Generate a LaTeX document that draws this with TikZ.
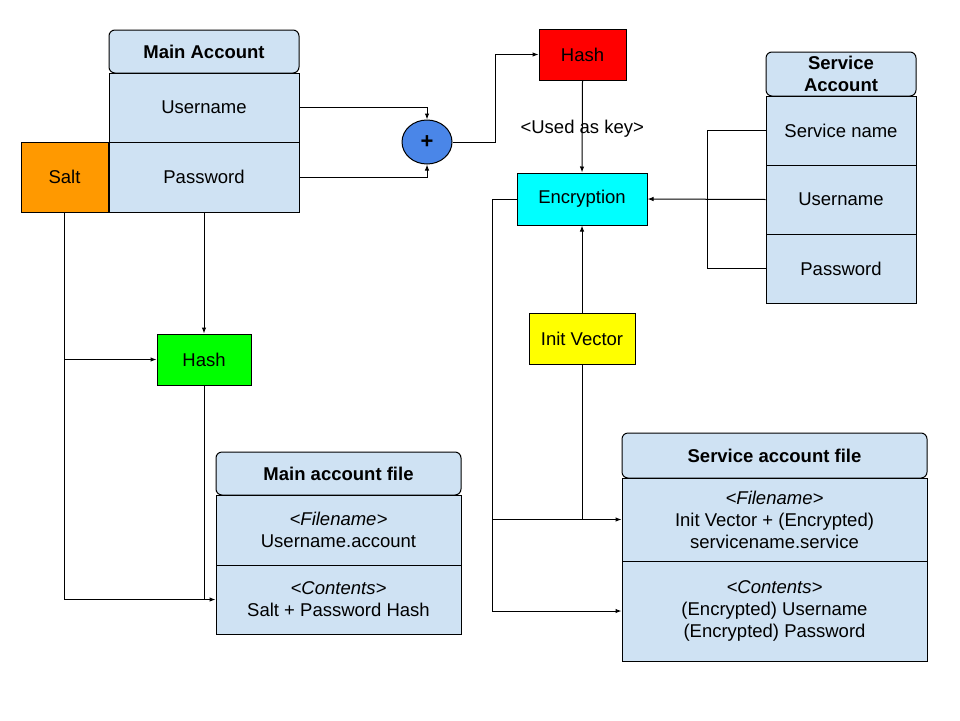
\documentclass[tikz,border=0pt]{standalone}
\usepackage{fontspec}
\setmainfont{Liberation Sans}
\usetikzlibrary{arrows.meta,shapes.geometric}

\definecolor{cellblue}{HTML}{CFE2F3}
\definecolor{saltorange}{HTML}{FF9900}
\definecolor{plusblue}{HTML}{4A86E8}
\definecolor{hashred}{HTML}{FF0000}
\definecolor{hashgreen}{HTML}{00FF00}
\definecolor{enccyan}{HTML}{00FFFF}
\definecolor{ivyellow}{HTML}{FFFF00}

\tikzset{
    cell/.style={draw, fill=cellblue, align=center, inner sep=0pt,
        font=\fontsize{18.5}{22}\selectfont},
    head/.style={cell, rounded corners=6pt, font=\fontsize{18.5}{22}\selectfont\bfseries},
    box/.style={draw, align=center, inner sep=0pt, font=\fontsize{18.5}{22}\selectfont},
    flow/.style={-{Latex[length=6pt,width=4.5pt]}}
}

\begin{document}
\begin{tikzpicture}[x=1pt, y=-1pt, line width=1pt]
            \useasboundingbox (0,0) rectangle (960,720);

            % main account
            \node[head, minimum width=190pt, minimum height=43pt] (mHead) at (204,51.5) {Main Account};
            \node[cell, minimum width=190pt, minimum height=69pt] (mUser) at (204,107.5) {Username};
            \node[cell, minimum width=190pt, minimum height=70pt] (mPass) at (204,177) {Password};
            \node[box, fill=saltorange, minimum width=87pt, minimum height=70pt] (salt) at (64.5,177) {Salt};

            \node[ellipse, draw, fill=plusblue, minimum width=50pt, minimum height=44pt, inner sep=0pt,
                font=\fontsize{22}{22}\selectfont\bfseries] (plus) at (427,142) {+};

            \node[box, fill=hashred, minimum width=87pt, minimum height=51pt] (keyHash) at (582.5,54.5) {Hash};
            \node[box, fill=enccyan, minimum width=130pt, minimum height=52pt] (enc) at (582,199) {Encryption};
            \node[box, fill=ivyellow, minimum width=106pt, minimum height=51pt] (iv) at (582,338.5) {Init Vector};
            \node[box, fill=hashgreen, minimum width=94pt, minimum height=51pt] (mHash) at (204,359.5) {Hash};

            % service account
            \node[head, minimum width=150pt, minimum height=44pt] (sHead) at (841,74) {Service\\Account};
            \node[cell, minimum width=150pt, minimum height=69pt] (sName) at (841,130.5) {Service name};
            \node[cell, minimum width=150pt, minimum height=69pt] (sUser) at (841,199.5) {Username};
            \node[cell, minimum width=150pt, minimum height=69pt] (sPass) at (841,268.5) {Password};

            % files
            \node[head, minimum width=245pt, minimum height=43pt] (mfHead) at (338.5,473.5) {Main account file};
            \node[cell, minimum width=245pt, minimum height=70pt] (mfName) at (338.5,530) {\textit{<Filename>}\\Username.account};
            \node[cell, minimum width=245pt, minimum height=69pt] (mfCont) at (338.5,599.5) {\textit{<Contents>}\\Salt + Password Hash};

            \node[head, minimum width=305pt, minimum height=45pt] (sfHead) at (774.5,455.5) {Service account file};
            \node[cell, minimum width=305pt, minimum height=83pt] (sfName) at (774.5,519.5) {\textit{<Filename>}\\Init Vector + (Encrypted)\\servicename.service};
            \node[cell, minimum width=305pt, minimum height=100pt] (sfCont) at (774.5,611) {\textit{<Contents>}\\(Encrypted) Username\\(Encrypted) Password};

            % connectors
            \draw[flow] (mUser.east) -| (plus.north);
            \draw[flow] (mPass.east) -| (plus.south);
            \draw[flow] (plus.east) -- ++(43,0) |- (keyHash.west);
            \draw[flow] (keyHash.south) -- node[font=\fontsize{18.5}{22}\selectfont, yshift=-2pt] {<Used as key>} (enc.north);

            \draw (sName.west) -- ++(-58,0) |- (sPass.west);
            \draw[flow] (sUser.west) -- (enc.east);
            \draw[flow] (iv.north) -- (enc.south);
            \draw[flow] (enc.west) -- ++(-24,0) |- (sfCont.west);
            \draw[flow] (enc.west) -- ++(-24,0) |- (sfName.west);
            \draw (iv.south) -- (iv.south |- sfName.west);

            \draw[flow] (mPass.south) -- (mHash.north);
            \draw[flow] (salt.south) |- (mHash.west);
            \draw[flow] (salt.south) |- (mfCont.west);
            \draw (mHash.south) -- (mHash.south |- mfCont.west);
\end{tikzpicture}
\end{document}
